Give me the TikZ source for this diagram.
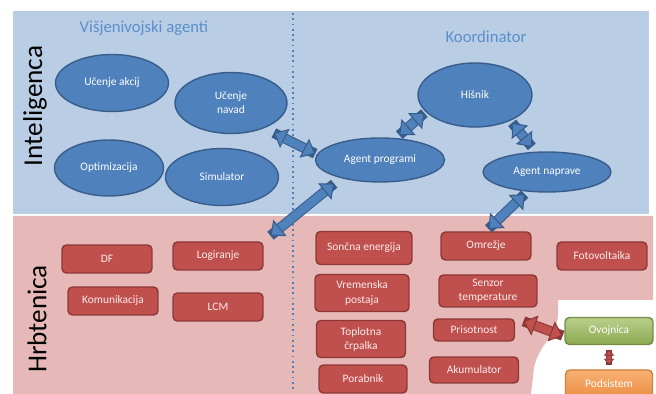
\documentclass[tikz,border=0pt]{standalone}
\usepackage{fontspec}
\setmainfont{Carlito}
\usepackage{xcolor}
\usepackage{tikz}
\usetikzlibrary{arrows.meta,shapes.geometric}
\definecolor{intbg}{HTML}{B9CDE5}
\definecolor{hrbbg}{HTML}{E6B9B8}
\definecolor{agfill}{HTML}{4F81BD}
\definecolor{agedge}{HTML}{385D8A}
\definecolor{modfill}{HTML}{C0504D}
\definecolor{modedge}{HTML}{8C3836}
\definecolor{titleblue}{HTML}{5B8FCC}
\definecolor{ovgreen}{HTML}{9BBB59}
\definecolor{pdorange}{HTML}{F79646}

\begin{document}
\begin{tikzpicture}[x=0.02cm,y=-0.02cm,
  agent/.style={ellipse,draw=agedge,line width=0.8pt,fill=agfill,inner sep=0pt,text=white,align=center,font=\fontsize{6.5}{8}\selectfont},
  modul/.style={rectangle,rounded corners=2.5pt,draw=modedge,line width=0.8pt,fill=modfill,inner sep=0pt,text=white!92!red,align=center,font=\fontsize{6.5}{8}\selectfont,minimum width=1.8cm,minimum height=0.56cm},
  bidir/.style={draw=#1fill,line width=4.6pt,{Triangle[width=12pt,length=7pt,fill=#1fill,color=#1edge,line width=0.6pt]}-{Triangle[width=12pt,length=7pt,fill=#1fill,color=#1edge,line width=0.6pt]},preaction={draw=#1edge,line width=5.8pt,-}},
  smalldir/.style={draw=modfill,line width=2.2pt,{Triangle[width=6pt,length=3.5pt,fill=modfill,color=modedge,line width=0.5pt]}-{Triangle[width=6pt,length=3.5pt,fill=modfill,color=modedge,line width=0.5pt]},preaction={draw=modedge,line width=3pt,-}},
  title/.style={text=titleblue,font=\fontsize{9.5}{11}\selectfont},
  layer/.style={font=\fontsize{15.5}{17}\selectfont,rotate=90}]
  \useasboundingbox (0,0) rectangle (656,394);
  \fill[intbg] (13,11) rectangle (649,214);
  \fill[hrbbg] (13,216) -- (653,216) -- (653,300) -- (558,300) -- (558,316) .. controls (556,336) and (538,346) .. (534,368) -- (531,394) -- (13,394) -- cycle;
  \draw[agfill,dotted,line width=1pt] (293,13) -- (293,392);
  \node[title] (vna) at (144,28) {Višjenivojski agenti};
  \node[title] (koo) at (486,37) {Koordinator};
  \node[layer] (int) at (35,106) {Inteligenca};
  \node[layer] (hrb) at (37,319) {Hrbtenica};
  \node[agent,minimum width=2.26cm,minimum height=1.14cm] (ua) at (112,83) {Učenje akcij};
  \node[agent,minimum width=2.24cm,minimum height=1.22cm] (un) at (231,103) {Učenje\\navad};
  \node[agent,minimum width=2.18cm,minimum height=1.12cm] (op) at (109,168) {Optimizacija};
  \node[agent,minimum width=2.26cm,minimum height=1.14cm] (si) at (222,177) {Simulator};
  \node[agent,minimum width=2.28cm,minimum height=1.28cm] (hi) at (475,95) {Hišnik};
  \node[agent,minimum width=2.58cm,minimum height=0.88cm] (ap) at (380,160) {Agent programi};
  \node[agent,minimum width=2.56cm,minimum height=0.80cm] (an) at (547,172) {Agent naprave};
  \node[modul] (df) at (107,259) {DF};
  \node[modul] (lo) at (218,256) {Logiranje};
  \node[modul] (ko) at (113,301) {Komunikacija};
  \node[modul] (lcm) at (218,307) {LCM};
  \node[modul,minimum width=1.92cm,minimum height=0.66cm] (se) at (364,248) {Sončna energija};
  \node[modul,minimum width=1.88cm,minimum height=0.74cm] (vp) at (362,293) {Vremenska\\postaja};
  \node[modul,minimum width=1.78cm,minimum height=0.74cm] (tc) at (361,339) {Toplotna\\črpalka};
  \node[modul,minimum width=1.76cm] (po) at (363,379) {Porabnik};
  \node[modul] (om) at (486,246) {Omrežje};
  \node[modul,minimum width=1.96cm,minimum height=0.64cm] (st) at (488,291) {Senzor\\temperature};
  \node[modul,minimum width=1.62cm,minimum height=0.44cm] (pr) at (474,330) {Prisotnost};
  \node[modul,minimum width=1.78cm,minimum height=0.52cm] (ak) at (474,370) {Akumulator};
  \node[modul] (fv) at (602,256) {Fotovoltaika};
  \node[modul,draw=ovgreen!75!black,top color=ovgreen!70!white,bottom color=ovgreen!90!black,text=white,minimum width=1.76cm,minimum height=0.54cm] (ov) at (609,331) {Ovojnica};
  \node[modul,draw=pdorange!85!black,top color=pdorange!75!white,bottom color=pdorange!95!black,text=white,minimum width=1.74cm,minimum height=0.56cm] (pd) at (609,384) {Podsistem};
  \draw[bidir=ag,shorten <=6pt,shorten >=1pt] (un.-37) -- (ap.175);
  \draw[bidir=ag,shorten <=5pt,shorten >=5pt] (ap.-155) -- (lo.north east);
  \draw[bidir=ag,shorten <=2.5pt,shorten >=1pt] (ap.54) -- (hi.-161);
  \draw[bidir=ag,shorten <=1.5pt,shorten >=3.5pt] (hi.-36) -- (an.119);
  \draw[bidir=ag,shorten <=2pt,shorten >=2pt] (an.-135) -- (om.north);
  \draw[bidir=mod,shorten <=5pt,shorten >=1pt] (pr.north east) -- ([yshift=-3pt]ov.west);
  \draw[smalldir,shorten <=2.5pt,shorten >=2.5pt] (ov.south) -- (pd.north);
\end{tikzpicture}
\end{document}
